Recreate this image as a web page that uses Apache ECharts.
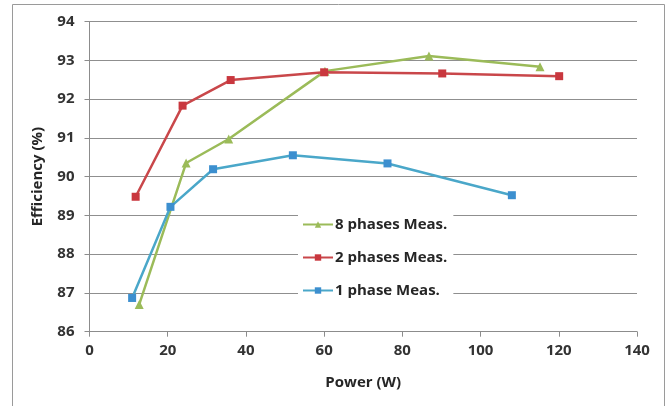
<!DOCTYPE html>
<html>
  <head>
    <meta charset='UTF-8'>
    <title>Efficiency vs Power</title>
    <script src="https://cdn.jsdelivr.net/npm/echarts@6/dist/echarts.min.js"></script>
    <style>
      html, body { margin: 0; padding: 0; background: #fff; }
    </style>
  </head>
  <body>
    <div id="chart" style="width: 670px; height: 406px;"></div>
    <script type="text/javascript">
      // 数据
      var seriesNames = ['8 phases Meas.', '2 phases Meas.', '1 phase Meas.'];

      var power8 = [12.7, 24.7, 35.6, 60.2, 86.8, 115.2];
      var eff8   = [86.70, 90.35, 90.97, 92.72, 93.11, 92.83];

      var power2 = [11.8, 23.8, 36.1, 60.0, 90.2, 120.1];
      var eff2   = [89.48, 91.83, 92.49, 92.69, 92.66, 92.59];

      var power1 = [10.9, 20.7, 31.6, 52.0, 76.2, 108.0];
      var eff1   = [86.87, 89.22, 90.19, 90.55, 90.34, 89.52];

      function pairs(xs, ys) {
        return xs.map(function (x, i) { return [x, ys[i]]; });
      }

      var font = 'Open Sans';
      var myChart = echarts.init(document.getElementById('chart'));
      var option = {
        animation: false,
        backgroundColor: '#fff',
        textStyle: { fontFamily: font },
        graphic: [{
          type: 'rect',
          shape: { x: 12.5, y: 4.5, width: 652, height: 420 },
          style: { fill: 'none', stroke: '#9a9a9a', lineWidth: 1 },
          silent: true
        }],
        grid: { left: 89.5, right: 33, top: 21.5, bottom: 74.3 },
        legend: {
          orient: 'vertical',
          left: 298,
          top: 212,
          backgroundColor: '#fff',
          padding: [4, 6, 4, 4],
          itemWidth: 30,
          itemHeight: 8,
          itemGap: 16,
          textStyle: { fontFamily: font, fontWeight: 'bold', fontSize: 15, lineHeight: 17, color: '#262626', padding: [0, 0, 0, -3] },
          data: seriesNames
        },
        xAxis: {
          type: 'value',
          min: 0, max: 140, interval: 20,
          name: 'Power (W)',
          nameLocation: 'middle',
          nameGap: 44,
          nameTextStyle: { fontFamily: font, fontWeight: 'bold', fontSize: 15, color: '#262626' },
          axisLine: { show: true, lineStyle: { color: '#8c8c8c', width: 1 } },
          axisTick: { show: true, length: 5, lineStyle: { color: '#8c8c8c' } },
          axisLabel: { margin: 12, fontFamily: font, fontWeight: 'bold', fontSize: 15, color: '#333' },
          splitLine: { show: false }
        },
        yAxis: {
          type: 'value',
          min: 86, max: 94, interval: 1,
          name: 'Efficiency (%)',
          nameLocation: 'middle',
          nameGap: 44,
          nameTextStyle: { fontFamily: font, fontWeight: 'bold', fontSize: 15, color: '#262626' },
          axisLine: { show: true, lineStyle: { color: '#8c8c8c', width: 1 } },
          axisTick: { show: true, length: 5, lineStyle: { color: '#8c8c8c' } },
          axisLabel: { margin: 15, fontFamily: font, fontWeight: 'bold', fontSize: 15, color: '#333' },
          splitLine: { show: true, lineStyle: { color: '#8f8f8f', width: 1.2 } }
        },
        series: [
          {
            name: seriesNames[0],
            type: 'line',
            data: pairs(power8, eff8),
            symbol: 'triangle',
            symbolSize: 9,
            lineStyle: { color: '#9bbb59', width: 2.5 },
            itemStyle: { color: '#9bbb59' }
          },
          {
            name: seriesNames[1],
            type: 'line',
            data: pairs(power2, eff2),
            symbol: 'rect',
            symbolSize: 8,
            lineStyle: { color: '#c9474a', width: 2.5 },
            itemStyle: { color: '#c9373e' }
          },
          {
            name: seriesNames[2],
            type: 'line',
            data: pairs(power1, eff1),
            symbol: 'rect',
            symbolSize: 8,
            lineStyle: { color: '#4aa7c9', width: 2.5 },
            itemStyle: { color: '#3c8fcf' }
          }
        ]
      };
      myChart.setOption(option);
    </script>
  </body>
</html>
